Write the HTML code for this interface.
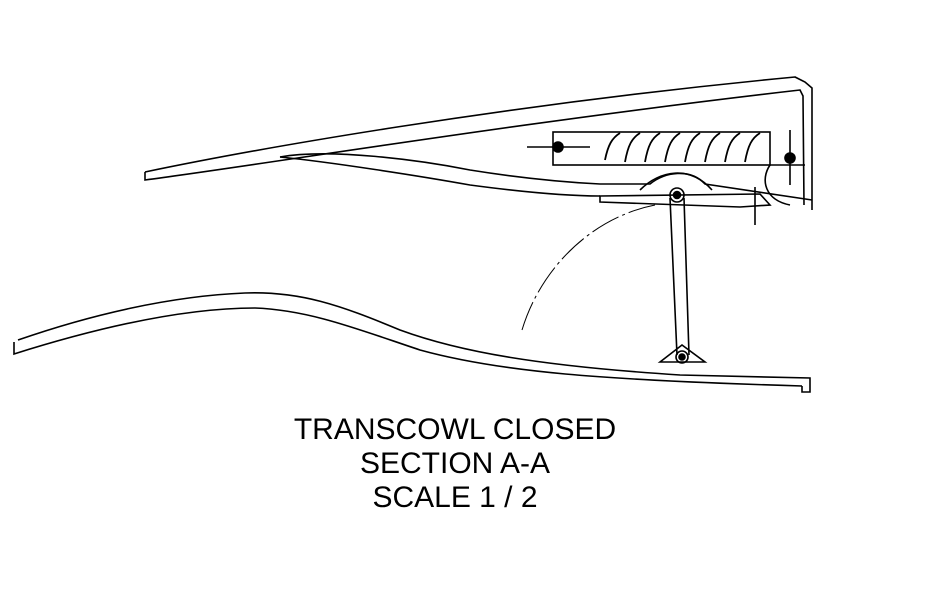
<!DOCTYPE html>
<html><head><style>
body{margin:0;background:#fff;}
.t{position:absolute;left:0;width:910px;text-align:center;font-family:"Liberation Sans",sans-serif;font-size:30px;color:#000;line-height:34px}
</style></head><body>
<div style="position:relative;width:929px;height:614px;overflow:hidden">
<svg width="929" height="614" style="position:absolute;left:0;top:0" fill="none" stroke="#000" stroke-width="1.6">
<path d="M145,172 C250,150 500,105 795,77 L805,82 L812,88 L812,210"/>
<path d="M145,172 L145,180 C260,165 520,122 800,90 L803,96 L804,205"/>
<path d="M280,157 C330,148 420,160 470,170 C520,178 560,182 600,184 L650,184 C665,172 690,168 705,184 L812,200"/>
<path d="M280,157 C330,162 420,176 470,185 C530,193 570,196 600,196"/>
<path d="M600,196 L760,194 L770,205 L740,207 L600,202 Z"/>
<path d="M640,190 C660,170 690,165 712,190"/>
<rect x="553" y="132" width="217" height="33"/>
<path d="M770,165 L805,165 M770,165 C760,180 765,200 790,205" />
<g stroke-width="1.8">
<path d="M605,160 C608,145 612,138 620,133 M625,162 C628,145 632,138 640,133 M645,162 C648,145 652,138 660,133 M665,162 C668,145 672,138 680,133 M685,162 C688,145 692,138 700,133 M705,162 C708,145 712,138 720,133 M725,162 C728,145 732,138 740,133 M745,162 C748,145 752,138 760,133"/>
</g>
<path d="M527,147 L590,147 M790,130 L790,185 M755,187 L755,225"/>
<circle cx="558" cy="147" r="5" fill="#000"/>
<circle cx="790" cy="158" r="5" fill="#000"/>
<path d="M670,198 L677,355 M684,198 L689,355"/>
<circle cx="677" cy="195" r="7"/><circle cx="677" cy="195" r="3.5" fill="#000"/>
<circle cx="682" cy="357" r="6"/><circle cx="682" cy="357" r="3" fill="#000"/>
<path d="M660,362 L682,345 L705,362 Z"/>
<path d="M522,330 C540,270 590,218 655,205" stroke-width="1" stroke-dasharray="30,4,3,4"/>
<path d="M18,340 C90,315 170,296 245,293 C300,291 340,305 400,330 C460,352 540,366 680,375 L810,378 L810,392 L802,392 L802,386"/>
<path d="M14,342 L14,354 C90,330 180,308 255,308 C310,310 360,330 420,350 C500,372 600,380 802,386"/>
</svg>
<div class="t" style="top:413px">TRANSCOWL CLOSED</div>
<div class="t" style="top:447px">SECTION A-A</div>
<div class="t" style="top:481px">SCALE 1 / 2</div>
</div>
</body></html>
